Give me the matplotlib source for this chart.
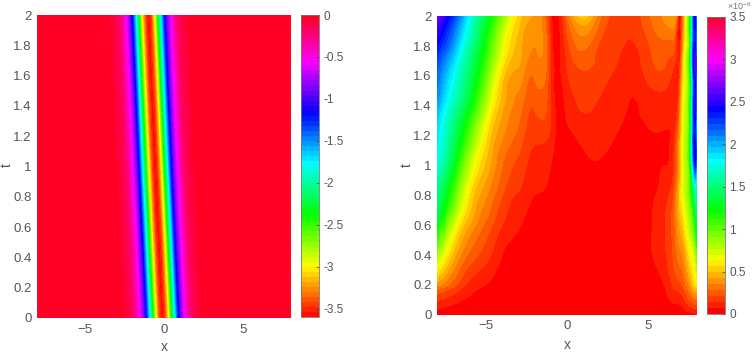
import numpy as np
import matplotlib
matplotlib.use('Agg')
import matplotlib.pyplot as plt
import matplotlib.tri as mtri

plt.rcParams['font.family'] = ['Liberation Sans', 'DejaVu Sans']
plt.rcParams['mathtext.default'] = 'regular'

# left panel: pulse profile around its centre, and the centre at each t
pulse_offset = [-12, -4, -3, -2.5, -2, -1.7, -1.4, -1.2, -1.03, -0.8, -0.6, -0.42, -0.2, 0,
                0.2, 0.42, 0.6, 0.8, 1.03, 1.2, 1.4, 1.7, 2, 2.5, 3, 4, 12]
pulse_value = [0, -0.005, -0.02, -0.05, -0.14, -0.3, -0.6, -0.88, -1.2, -1.8, -2.4, -3.0, -3.45, -3.6,
               -3.45, -3.0, -2.4, -1.8, -1.2, -0.88, -0.6, -0.3, -0.14, -0.05, -0.02, -0.005, 0]
pulse_t = [0, 0.5, 1, 1.5, 2]
pulse_centre = [-0.1, -0.33, -0.56, -0.77, -0.98]

# right panel: values read in units of 1e-6, one row per t
err_x = [-8, -7, -6, -5, -4, -3, -2.5, -2, -1.4, -1, -0.6, 0, 1, 2, 3, 4, 5, 6, 6.5, 6.75, 7, 7.3, 7.6, 7.85, 8]
err_t = [0, 0.1, 0.2, 0.4, 0.6, 0.8, 1, 1.2, 1.4, 1.6, 1.8, 2]
err_0 = [0.02, 0.01, 0, 0, 0, 0, 0, 0, 0, 0, 0, 0, 0, 0, 0, 0, 0, 0, 0.01, 0.015, 0.02, 0.03, 0.04, 0.05, 0.06]
err_1 = [0.15, 0.1, 0.055, 0.03, 0.01, 0, 0, 0, 0, 0, 0, 0, 0, 0, 0, 0, 0, 0.04, 0.08, 0.09, 0.1, 0.15, 0.22, 0.27, 0.3]
err_2 = [0.38, 0.24, 0.12, 0.07, 0.035, 0.015, 0.005, 0, 0, 0, 0, 0, 0, 0, 0, 0, 0.01, 0.07, 0.14, 0.18, 0.2, 0.27, 0.4, 0.53, 0.58]
err_4 = [0.83, 0.46, 0.26, 0.17, 0.07, 0.04, 0.02, 0.01, 0.01, 0, 0, 0, 0, 0, 0, 0, 0.05, 0.12, 0.2, 0.27, 0.33, 0.42, 0.6, 0.7, 0.95]
err_6 = [1.25, 0.72, 0.41, 0.26, 0.14, 0.08, 0.05, 0.03, 0.02, 0.01, 0, 0, 0, 0, 0, 0, 0.05, 0.13, 0.22, 0.32, 0.45, 0.6, 0.82, 1.05, 1.35]
err_8 = [1.5, 1.03, 0.56, 0.36, 0.21, 0.13, 0.1, 0.07, 0.06, 0.03, 0.01, 0.01, 0.01, 0.01, 0, 0, 0.04, 0.1, 0.18, 0.33, 0.55, 0.75, 1.0, 1.45, 1.65]
err_10 = [1.72, 1.28, 0.76, 0.47, 0.28, 0.19, 0.14, 0.11, 0.1, 0.07, 0.03, 0.02, 0.05, 0.06, 0.03, 0.01, 0.03, 0.07, 0.1, 0.25, 0.47, 0.78, 1.17, 2.2, 1.9]
err_12 = [1.85, 1.45, 1.0, 0.58, 0.36, 0.26, 0.19, 0.16, 0.16, 0.12, 0.05, 0.05, 0.09, 0.1, 0.07, 0.04, 0.06, 0.065, 0.08, 0.2, 0.45, 0.78, 1.2, 2.35, 1.85]
err_14 = [2.0, 1.62, 1.25, 0.78, 0.44, 0.32, 0.24, 0.22, 0.235, 0.14, 0.05, 0.09, 0.15, 0.13, 0.1, 0.065, 0.09, 0.1, 0.09, 0.1, 0.38, 0.74, 1.2, 2.4, 1.8]
err_16 = [2.15, 1.78, 1.42, 0.98, 0.52, 0.39, 0.31, 0.29, 0.3, 0.14, 0.05, 0.13, 0.2, 0.17, 0.13, 0.1, 0.16, 0.19, 0.13, 0.08, 0.25, 0.68, 1.18, 2.4, 1.8]
err_18 = [2.38, 2.02, 1.58, 1.17, 0.7, 0.46, 0.38, 0.35, 0.34, 0.13, 0.04, 0.18, 0.3, 0.2, 0.16, 0.13, 0.2, 0.26, 0.25, 0.15, 0.12, 0.62, 1.17, 2.4, 1.8]
err_20 = [2.65, 2.28, 1.78, 1.35, 0.9, 0.54, 0.45, 0.41, 0.3, 0.09, 0.04, 0.28, 0.52, 0.3, 0.19, 0.17, 0.26, 0.36, 0.4, 0.32, 0.065, 0.58, 1.17, 2.4, 1.8]

x_ticks = [-5, 0, 5]
t_ticks = [0, 0.2, 0.4, 0.6, 0.8, 1, 1.2, 1.4, 1.6, 1.8, 2]
t_labels = ['0', '0.2', '0.4', '0.6', '0.8', '1', '1.2', '1.4', '1.6', '1.8', '2']
left_bar_ticks = [-3.5, -3, -2.5, -2, -1.5, -1, -0.5, 0]
left_bar_labels = ['-3.5', '-3', '-2.5', '-2', '-1.5', '-1', '-0.5', '0']
right_bar_ticks = [0, 0.5, 1, 1.5, 2, 2.5, 3, 3.5]
right_bar_labels = ['0', '0.5', '1', '1.5', '2', '2.5', '3', '3.5']

W, H = 753, 353
text_color = '#555555'
font_size = 9.5


def px_axes(fig, x0, y0, x1, y1):
    # box given in image pixels, y going down
    return fig.add_axes([x0 / W, 1 - y1 / H, (x1 - x0) / W, (y1 - y0) / H])


def style_panel(ax):
    ax.set_xlim(-8, 8)
    ax.set_ylim(0, 2)
    ax.set_xticks(x_ticks)
    ax.set_yticks(t_ticks)
    ax.set_yticklabels(t_labels)
    ax.tick_params(length=0, labelsize=font_size, labelcolor=text_color, pad=4)
    for spine in ax.spines.values():
        spine.set_visible(False)


def style_bar(cax, ticks, labels):
    cax.yaxis.set_ticks(ticks)
    cax.set_yticklabels(labels)
    cax.minorticks_off()
    cax.tick_params(direction='in', length=2, width=0.5, color='#444444',
                    labelsize=font_size - 1, labelcolor=text_color, pad=3)


fig = plt.figure(figsize=(W / 100, H / 100), dpi=100)

# left panel
ax1 = px_axes(fig, 37, 15, 291, 318)
T1, O1 = np.meshgrid(pulse_t, pulse_offset, indexing='ij')
X1 = T1 * 0
for i in range(len(pulse_t)):
    X1[i] = O1[i] + pulse_centre[i]
Z1 = np.tile(pulse_value, (len(pulse_t), 1))
cf1 = ax1.contourf(X1, T1, Z1, levels=np.linspace(-3.6, 0, 61), cmap='hsv', vmin=-3.6, vmax=0)
style_panel(ax1)
cax1 = px_axes(fig, 301, 15, 319.5, 317)
cb1 = fig.colorbar(cf1, cax=cax1)
cb1.outline.set_edgecolor('#777777')
cb1.outline.set_linewidth(0.6)
style_bar(cax1, left_bar_ticks, left_bar_labels)

# right panel: matplotlib's refiner works on the table's row/column indices,
# where the triangles are regular, then the fine nodes go back to x and t
ax2 = px_axes(fig, 437.3, 16.3, 696.7, 314.7)
err_rows = np.array([err_0, err_1, err_2, err_4, err_6, err_8, err_10,
                     err_12, err_14, err_16, err_18, err_20])
col_i, row_i = np.meshgrid(np.arange(len(err_x)), np.arange(len(err_t)))
tri = mtri.Triangulation(col_i.ravel().astype(float), row_i.ravel().astype(float))
refiner = mtri.UniformTriRefiner(tri)
tri_fine, z_fine = refiner.refine_field(err_rows.ravel(), subdiv=3)
z_fine = np.clip(z_fine, 0, 3.5)
tri_xt = mtri.Triangulation(np.interp(tri_fine.x, col_i[0], err_x),
                            np.interp(tri_fine.y, row_i[:, 0], err_t),
                            tri_fine.triangles)
# each band takes the colour of its lower level, so the lowest one is pure red
err_levels = np.linspace(0, 3.5, 51)
band_colors = plt.get_cmap('hsv')(err_levels[:-1] / 3.5)
cf2 = ax2.tricontourf(tri_xt, z_fine, levels=err_levels, colors=band_colors)
style_panel(ax2)
cax2 = px_axes(fig, 706.7, 16.5, 725, 314)
cb2 = fig.colorbar(cf2, cax=cax2)
cb2.outline.set_edgecolor('#777777')
cb2.outline.set_linewidth(0.6)
style_bar(cax2, right_bar_ticks, right_bar_labels)

fig.text(727 / W, 1 - 6 / H, '\u00d710$^{-6}$', fontsize=6.5, color='#777777', va='center')
fig.text(164 / W, 1 - 347 / H, 'x', fontsize=font_size + 0.5, color=text_color, ha='center', va='center')
fig.text(7 / W, 1 - 165 / H, 't', fontsize=font_size + 0.5, color=text_color, ha='center', va='center', rotation=90)
fig.text(567 / W, 1 - 345 / H, 'x', fontsize=font_size + 0.5, color=text_color, ha='center', va='center')
fig.text(407 / W, 1 - 165 / H, 't', fontsize=font_size + 0.5, color=text_color, ha='center', va='center', rotation=90)

fig.savefig('out.png', dpi=100)
